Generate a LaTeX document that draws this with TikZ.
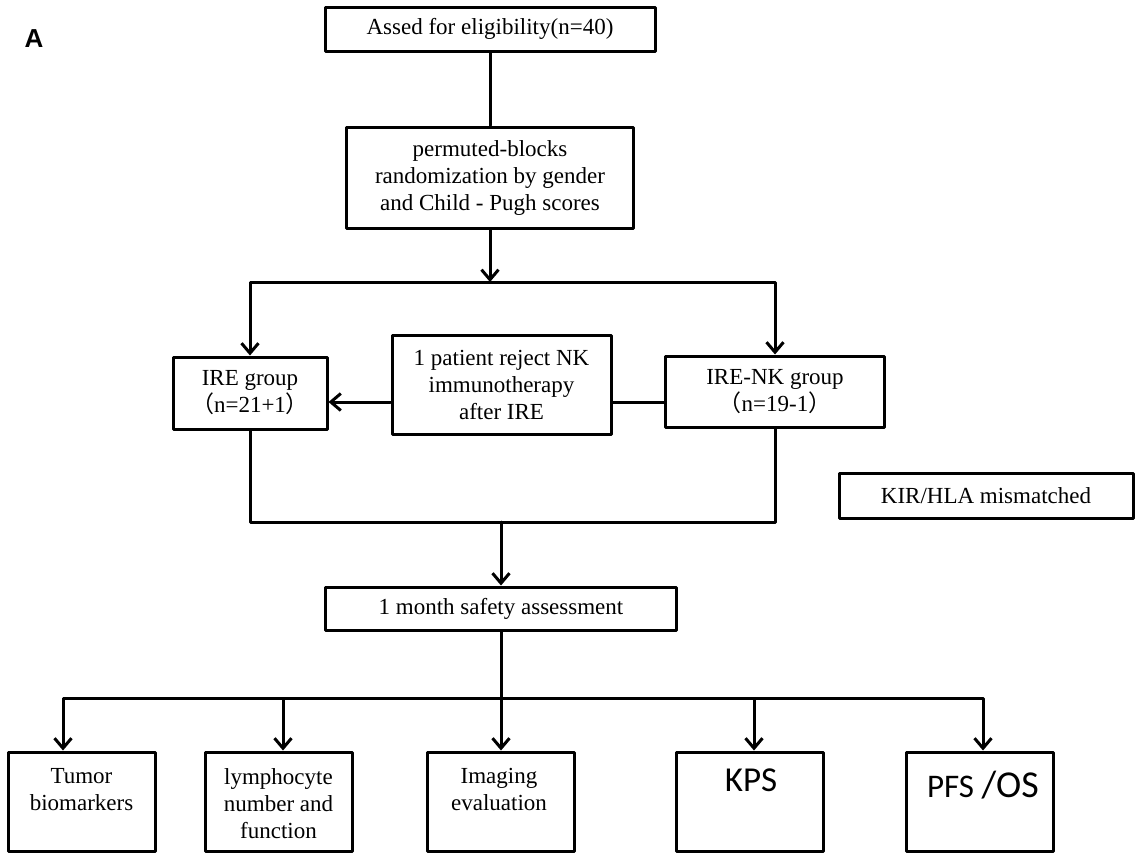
\documentclass[tikz,border=0pt]{standalone}
\usepackage{fontspec}
\setmainfont{Liberation Serif}
\newfontfamily\calfont{Carlito}
\newfontfamily\helvfont{Liberation Sans}
\newfontfamily\cjk{Noto Sans CJK SC}
\usetikzlibrary{arrows.meta}
\newcommand{\lpar}{{\cjk （}}
\newcommand{\rpar}{{\cjk ）}}
\begin{document}
\begin{tikzpicture}[x=1pt,y=-1pt,line cap=round,line join=round,>={Straight Barb[length=10pt,width=17pt]},line width=3pt,font=\fontsize{23}{27}\selectfont,
box/.style={draw,line width=3pt,align=center,inner sep=0pt},
outbox/.style={box,minimum width=147pt,minimum height=99pt},
txt/.style={align=center,inner sep=0pt}]
\useasboundingbox (0,0) rectangle (1135,855);
\node[font=\helvfont\bfseries\fontsize{26}{26}\selectfont] (lbl) at (34,38.5) {A};
%% Khung tren
\node[box,minimum width=330pt,minimum height=44pt] (elig) at (490,29) {Assed for eligibility(n=40)};
\node[box,minimum width=287pt,minimum height=101pt] (rand) at (490,177.5) {permuted-blocks\\randomization by gender\\and Child - Pugh scores};
%% Hai nhom
\node[box,minimum width=154pt,minimum height=72pt] (ire) at (250,393) {IRE group\\\lpar n=21+1\rpar};
\node[box,minimum width=219pt,minimum height=99pt] (rej) at (501.5,384.5) {1 patient reject NK\\immunotherapy\\after IRE};
\node[box,minimum width=219pt,minimum height=71pt] (irenk) at (775,391.5) {IRE-NK group\\\lpar n=19-1\rpar};
\node[box,minimum width=294pt,minimum height=45pt] (kir) at (986,495.5) {KIR/HLA mismatched};
\node[box,minimum width=351pt,minimum height=43pt] (safe) at (501,608.5) {1 month safety assessment};
%% Khung duoi
\foreach \n/\x in {tumor/81.5,lymph/278.5,imag/501,kps/750,pfs/980}
\node[outbox] (\n) at (\x,801.5) {};
\node[txt] (tumortx) at (81.5,789.5) {Tumor\\biomarkers};
\node[txt] (lymphtx) at (278.5,803.5) {lymphocyte\\number and\\function};
\node[txt] (imagtx) at (499,789.5) {Imaging\\evaluation};
\node[txt,font=\calfont\fontsize{35}{35}\selectfont] (kpstx) at (751,780) {KPS};
\node[txt,font=\calfont\fontsize{33}{33}\selectfont] (pfstx) at (983,785) {PFS {\fontsize{38}{38}\selectfont/OS}};
%% Duong noi
\coordinate (split) at (490,282);
\coordinate (join) at (501,522);
\coordinate (fork) at (501,698);
\coordinate (rejy) at (0,402);
\draw (elig) -- (rand);
\draw[->] (rand) -- (split);
\draw[->] (split) -| (ire);
\draw[->] (split) -| (irenk);
\draw[->] (rej.west |- rejy) -- (ire.east |- rejy);
\draw (rej.east |- rejy) -- (irenk.west |- rejy);
\draw (ire) |- (join) -| (irenk);
\draw[->] (join) -- (safe);
\draw (safe) -- (fork);
\draw[->] (fork) -- (imag);
\foreach \n/\dx in {tumor/-18.5,lymph/4.5,kps/4,pfs/3}
\draw[->] (fork) -| ([xshift=\dx pt]\n.north);
\end{tikzpicture}
\end{document}
